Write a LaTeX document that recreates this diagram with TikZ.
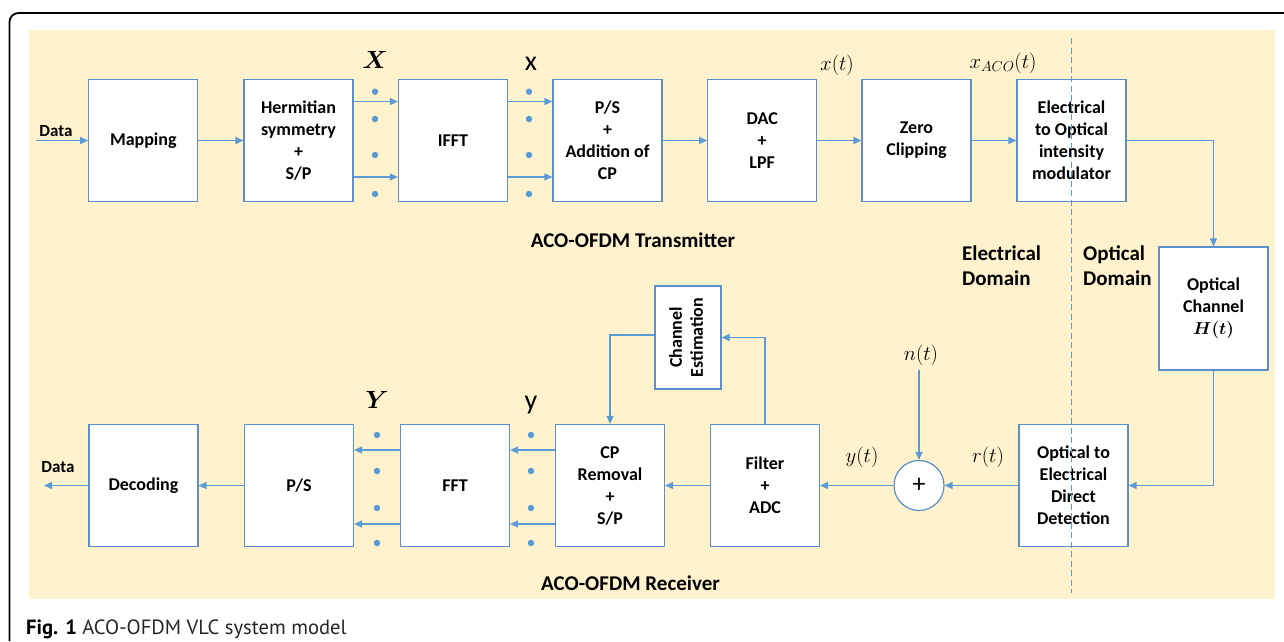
\documentclass[tikz,border=0pt]{standalone}
\usepackage[no-math]{fontspec}
\usepackage{amsmath, bm}
\setmainfont{Carlito}
\newfontfamily\capfont{PT Sans}
\usetikzlibrary{arrows.meta, calc}
\definecolor{paper}{HTML}{FFF2CC}
\definecolor{wire}{HTML}{5B9BD5}
\definecolor{edge}{HTML}{5A8FCB}
\tikzset{
    block/.style={draw=edge, line width=1.2pt, fill=white, minimum width=109pt, minimum height=122pt,
        align=center, inner sep=2pt, font=\fontsize{18}{22}\selectfont\bfseries},
    sigdot/.style={circle, fill=wire, inner sep=0pt, minimum size=6.5pt},
    wirearrow/.style={draw=wire, line width=1.3pt, -{Triangle[length=8pt, width=7pt]}},
    sigmath/.style={inner sep=0pt, font=\fontsize{22}{24}\selectfont},
    biglabel/.style={inner sep=0pt, font=\fontsize{28}{30}\selectfont},
    partlabel/.style={inner sep=0pt, align=left, font=\fontsize{21}{25}\selectfont\bfseries}
}

\begin{document}
\begin{tikzpicture}[x=1pt, y=-1pt]
    \useasboundingbox (0,0) rectangle (1284,641);

    % frame and background
    \draw[black, line width=1.8pt, rounded corners=9pt] (1284,13) -- (9.5,13) -- (9.5,641);
    \fill[paper] (28.5,30) rectangle (1275,599);

    % transmitter row
    \node[block] (map)  at (143.3,140.5) {Mapping};
    \node[block] (herm) at (298.5,140.5) {Hermitian\\symmetry\\+\\S/P};
    \node[block] (ifft) at (453,140.5)   {IFFT};
    \node[block] (ps)   at (607.5,140.5) {P/S\\+\\Addition of\\CP};
    \node[block] (dac)  at (762.2,140.5) {DAC\\+\\LPF};
    \node[block] (zc)   at (916.5,140.5) {Zero\\Clipping};
    \node[block] (eo)   at (1071.5,140.5) {Electrical\\to Optical\\intensity\\modulator};

    % channel
    \node[block, minimum height=123pt] (och) at (1213.5,308.5) {Optical\\Channel\\$\bm{H(t)}$};

    % receiver row
    \node[block] (dec)   at (143.5,485.5) {Decoding};
    \node[block] (pstor) at (299,485.5)   {P/S};
    \node[block] (fft)   at (455,485.5)   {FFT};
    \node[block] (cprm)  at (610,485.5)   {CP\\Removal\\+\\S/P};
    \node[block] (filt)  at (765,485.5)   {Filter\\+\\ADC};
    \node[block] (oe)    at (1073.5,485.5) {Optical to\\Electrical\\Direct\\Detection};
    \node[circle, draw=edge, line width=1.2pt, fill=white, minimum size=50pt, inner sep=0pt,
        font=\fontsize{26}{26}\selectfont] (sum) at (919,485.5) {+};
    \node[block, minimum width=66pt, minimum height=103pt] (chest) at (688,337.5)
        {\rotatebox{90}{\begin{tabular}{@{}c@{}}Channel\\[-1pt]Estimation\end{tabular}}};

    % free ends of the data wires
    \coordinate (datain)  at (36,140.5);
    \coordinate (dataout) at (44,485.5);

    % parallel lines
    \node[sigdot] (ta1) at (375,91.7) {};  \node[sigdot] (ta2) at (375,119) {};
    \node[sigdot] (ta3) at (375,155) {};   \node[sigdot] (ta4) at (375,194) {};
    \node[sigdot] (tb1) at (529,91.7) {};  \node[sigdot] (tb2) at (529,119) {};
    \node[sigdot] (tb3) at (529,155) {};   \node[sigdot] (tb4) at (529,194) {};
    \node[sigdot] (ra1) at (377,435) {};   \node[sigdot] (ra2) at (377,471) {};
    \node[sigdot] (ra3) at (377,508) {};   \node[sigdot] (ra4) at (377,543) {};
    \node[sigdot] (rb1) at (531,435) {};   \node[sigdot] (rb2) at (531,471) {};
    \node[sigdot] (rb3) at (531,508) {};   \node[sigdot] (rb4) at (531,543) {};

    % signal labels
    \node[biglabel, anchor=base] (bigx)   at (375,68)  {$\bm{X}$};
    \node[biglabel, anchor=base] (smallx) at (531,70)  {x};
    \node[biglabel, anchor=base] (bigy)   at (377,408) {$\bm{Y}$};
    \node[biglabel, anchor=base] (smally) at (531,409) {y};
    \node[sigmath] (xt)   at (837,65)   {$x(t)$};
    \node[sigmath] (xaco) at (1003,63)  {$x_{ACO}(t)$};
    \node[sigmath] (nt)   at (921,355)  {$n(t)$};
    \node[sigmath] (yt)   at (862,457)  {$y(t)$};
    \node[sigmath] (rt)   at (988,457)  {$r(t)$};
    \node[anchor=base, inner sep=0pt, font=\fontsize{17}{20}\selectfont\bfseries] (din)  at (56,136.5) {Data};
    \node[anchor=base, inner sep=0pt, font=\fontsize{17}{20}\selectfont\bfseries] (dout) at (58,472)   {Data};

    % transmitter wires
    \draw[wirearrow] (datain) -- (map);
    \draw[wirearrow] (map) -- (herm);
    \draw[wirearrow] ([yshift=39pt]herm.east) -- ([yshift=39pt]ifft.west);
    \draw[wirearrow] ([yshift=-36.5pt]herm.east) -- ([yshift=-36.5pt]ifft.west);
    \draw[wirearrow] ([yshift=39pt]ifft.east) -- ([yshift=39pt]ps.west);
    \draw[wirearrow] ([yshift=-36.5pt]ifft.east) -- ([yshift=-36.5pt]ps.west);
    \draw[wirearrow] (ps) -- (dac);
    \draw[wirearrow] (dac) -- (zc);
    \draw[wirearrow] (zc) -- (eo);
    \draw[wirearrow] (eo.east) -| (och.north);
    \draw[wirearrow] (och.south) |- (oe.east);

    % receiver wires
    \draw[wirearrow] (oe) -- (sum);
    \draw[wirearrow] ([xshift=-2pt,yshift=-4pt]nt.south) -- (sum);
    \draw[wirearrow] (sum) -- (filt);
    \draw[wirearrow] (filt) -- (cprm);
    \draw[wirearrow] (filt.north) |- (chest.east);
    \draw[wirearrow] ([yshift=2.5pt]chest.west) -| (cprm.north);
    \draw[wirearrow] ([yshift=35.5pt]cprm.west) -- ([yshift=35.5pt]fft.east);
    \draw[wirearrow] ([yshift=-38.5pt]cprm.west) -- ([yshift=-38.5pt]fft.east);
    \draw[wirearrow] ([yshift=35.5pt]fft.west) -- ([yshift=35.5pt]pstor.east);
    \draw[wirearrow] ([yshift=-38.5pt]fft.west) -- ([yshift=-38.5pt]pstor.east);
    \draw[wirearrow] (pstor) -- (dec);
    \draw[wirearrow] (dec) -- (dataout);

    % domain border
    \draw[wire, line width=1.1pt, dash pattern=on 6pt off 3.5pt] (1071.5,38) -- (1071.5,593);

    % part labels
    \node[partlabel] (txlabel) at (633,240) {ACO-OFDM Transmitter};
    \node[partlabel] (rxlabel) at (630.5,583) {ACO-OFDM Receiver};
    \node[partlabel, anchor=west] (elabel) at (962,265.5) {Electrical\\Domain};
    \node[partlabel, anchor=west] (olabel) at (1083,265.5) {Optical\\Domain};

    % caption
    \node[anchor=base west, inner sep=0pt, text=black!85, font=\capfont\fontsize{20.6}{24}\selectfont] (cap) at (26,634)
        {\textbf{\color{black}Fig. 1} ACO-OFDM VLC system model};
\end{tikzpicture}
\end{document}
